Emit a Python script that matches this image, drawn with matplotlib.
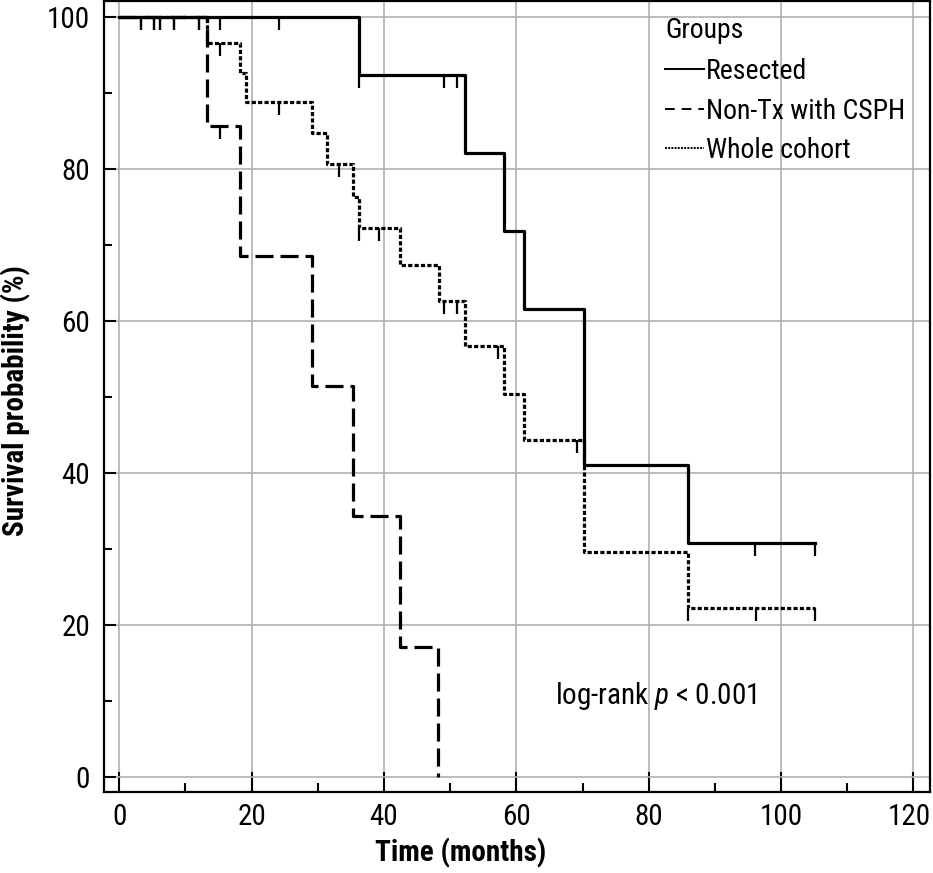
import numpy as np
import matplotlib
matplotlib.use("Agg")
import matplotlib.pyplot as plt
from matplotlib import font_manager as fm
from matplotlib.lines import Line2D
from matplotlib.transforms import ScaledTranslation

# pick a condensed sans if one is installed, otherwise a plain narrow-ish one
installed = {f.name for f in fm.fontManager.ttflist}
condensed = ['Roboto Condensed', 'Liberation Sans Narrow', 'Open Sans Condensed',
             'Noto Sans Condensed', 'DejaVu Sans Condensed']
font = next((f for f in condensed if f in installed), None)
if font is None:
    font = 'Liberation Sans'
    fs_tick, fs_lab, fs_leg = 19, 18, 17
else:
    fs_tick, fs_lab, fs_leg = 21, 21, 20

plt.rcParams['font.family'] = [font, 'DejaVu Sans']
plt.rcParams['mathtext.fontset'] = 'custom'
plt.rcParams['mathtext.rm'] = font
plt.rcParams['mathtext.it'] = font + ':italic'
plt.rcParams['lines.scale_dashes'] = False

# ---------------- data ---------------- #
# Resected
res_t = [0, 36.2, 52.2, 58.1, 61.2, 70.2, 86.0, 105.2]
res_s = [100, 92.3, 82.1, 71.8, 61.5, 41.0, 30.8, 30.8]
res_cens_t = [3.3, 5.2, 6.2, 8.3, 12.0, 15.2, 24.1, 36.2, 49.0, 51.1, 96.1, 105.2]
res_cens_s = [100, 100, 100, 100, 100, 100, 100, 92.3, 92.3, 92.3, 30.8, 30.8]

# Non-Tx with CSPH
ntx_t = [0, 13.2, 18.3, 29.2, 35.3, 42.4, 48.1]
ntx_s = [100, 85.7, 68.6, 51.4, 34.3, 17.1, 0]
ntx_cens_t = [15.3]
ntx_cens_s = [85.7]

# Whole cohort
who_t = [0, 13.3, 18.3, 19.2, 29.2, 31.4, 35.3, 36.3, 42.4, 48.3, 52.2, 58.2, 61.2, 70.2, 86.0, 105.2]
who_s = [100, 96.6, 92.6, 88.8, 84.7, 80.7, 76.3, 72.2, 67.4, 62.6, 56.7, 50.4, 44.3, 29.6, 22.2, 22.2]
who_cens_t = [3.3, 5.2, 6.2, 8.3, 12.0, 15.3, 24.1, 33.2, 36.3, 39.3, 49.1, 51.0, 57.2, 69.2, 86.0, 96.2, 105.2]
who_cens_s = [100, 100, 100, 100, 100, 96.6, 88.8, 80.7, 72.2, 72.2, 62.6, 62.6, 56.7, 44.3, 22.2, 22.2, 22.2]

labels = ["Resected", "Non-Tx with CSPH", "Whole cohort"]
x_ticks = [0, 20, 40, 60, 80, 100, 120]
y_ticks = [0, 20, 40, 60, 80, 100]

# ---------------- plot ---------------- #
fig = plt.figure(figsize=(9.33, 8.73), dpi=100)
ax = fig.add_axes([104 / 933, 81 / 873, 826 / 933, 791 / 873])

lw = 2.3
dash_style = (13, 5)
dot_style = (3, 1.6)
cens_marker = [(0, 0), (0, -1)]

ax.step(who_t, who_s, where='post', color='black', lw=lw, dashes=dot_style, zorder=3)
ax.step(ntx_t, ntx_s, where='post', color='black', lw=lw, dashes=dash_style, zorder=3)
ax.step(res_t, res_s, where='post', color='black', lw=lw, zorder=4)

for ct, cs in [(who_cens_t, who_cens_s), (ntx_cens_t, ntx_cens_s), (res_cens_t, res_cens_s)]:
    ax.plot(ct, cs, linestyle='none', marker=cens_marker, ms=18.7, mew=1.6,
            color='black', zorder=5)

ax.set_xlim(-2.3, 122.5)
ax.set_ylim(-2.0, 102.1)
ax.set_xticks(x_ticks)
ax.set_yticks(y_ticks)
ax.set_xticks(np.arange(10, 120, 20), minor=True)
ax.set_yticks(np.arange(10, 100, 20), minor=True)
ax.grid(True, which='major', color='#b0b0b0', lw=1.2, zorder=0)
ax.set_axisbelow(True)

ax.tick_params(axis='x', which='major', direction='in', length=14.5, width=1.5, labelsize=fs_tick, pad=8)
ax.tick_params(axis='x', which='minor', direction='in', length=6.5, width=1.5)
ax.tick_params(axis='y', which='major', direction='in', length=8.6, width=1.5, labelsize=fs_tick, pad=10)
ax.tick_params(axis='y', which='minor', direction='in', length=6, width=1.5)
for sp in ax.spines.values():
    sp.set_linewidth(1.6)

# last x label sits right at the figure edge; pull it in a little
last = ax.xaxis.get_major_ticks()[-1].label1
last.set_transform(last.get_transform() + ScaledTranslation(-4 / 100, 0, fig.dpi_scale_trans))

ax.set_xlabel("Time (months)", fontsize=fs_lab, fontweight='bold')
ax.set_ylabel("Survival probability (%)", fontsize=fs_lab, fontweight='bold')
ax.xaxis.set_label_coords(0.432, -0.058)
ax.yaxis.set_label_coords(-0.088, 0.495)

ax.text(65.8, 10.6, r"log-rank $\it{p}$ < 0.001", fontsize=fs_tick, ha='left', va='center')

handles = [
    Line2D([], [], color='black', lw=1.4),
    Line2D([], [], color='black', lw=1.4, dashes=(7, 5)),
    Line2D([], [], color='black', lw=1.4, dashes=(1.4, 0.9)),
]
leg = ax.legend(handles, labels, title="Groups", loc='upper left',
                bbox_to_anchor=(0.669, 0.99), frameon=False, fontsize=fs_leg,
                title_fontsize=fs_leg, handlelength=1.4, handletextpad=0.08,
                labelspacing=0.45, borderpad=0.3, borderaxespad=0)
leg._legend_box.align = 'left'
leg._legend_box.sep = 10

fig.savefig("out.png", dpi=100)
